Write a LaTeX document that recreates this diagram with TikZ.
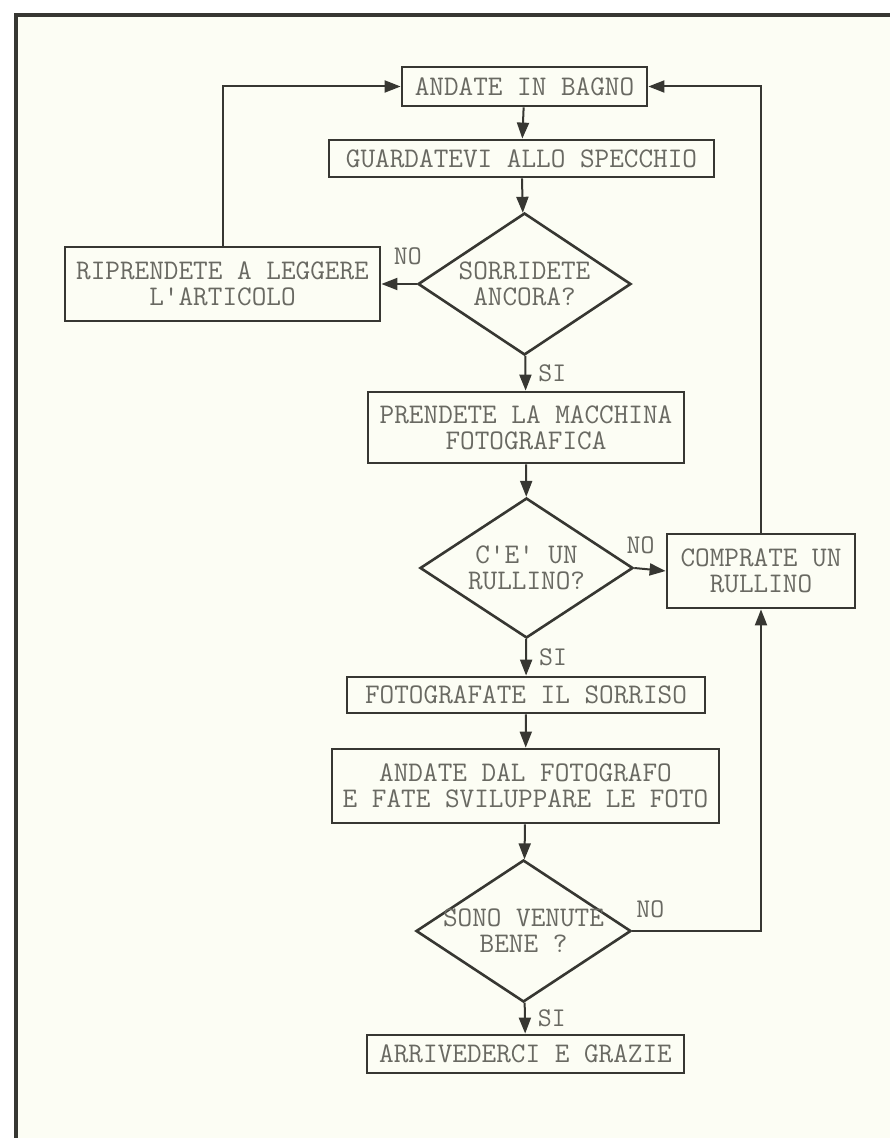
\documentclass[tikz,border=0pt]{standalone}
\usetikzlibrary{shapes.geometric,arrows.meta}
\definecolor{bgcream}{RGB}{252,253,244}
\definecolor{ink}{RGB}{55,55,50}
\definecolor{typeink}{RGB}{105,105,98}
\begin{document}
\begin{tikzpicture}[x=.5pt,y=-.5pt,
    box/.style={draw=ink,line width=1.4pt,rectangle,inner sep=.5pt,align=center,
      text=typeink,font=\ttfamily\fontsize{14.2}{13}\selectfont},
    test/.style={box,diamond,aspect=1.5,inner sep=-5pt,line width=1.3pt},
    link/.style={draw=ink,line width=1pt,-{Triangle[length=8pt,width=6pt]}},
    lbl/.style={text=typeink,font=\ttfamily\fontsize{13.5}{13.5}\selectfont,inner sep=1pt}]
  \useasboundingbox (0,0) rectangle (890,1138);
  \fill[bgcream] (16,15) rectangle (890,1138);
  \draw[ink,line width=1.6pt] (16,1138) -- (16,15) -- (890,15);
  % boxes and tests
  \node[box,minimum width=122.5pt,minimum height=19.5pt] (bagno) at (524.5,86.5) {ANDATE IN BAGNO};
  \node[box,minimum width=192.5pt,minimum height=18.5pt] (specchio) at (521.5,158.5) {GUARDATEVI ALLO SPECCHIO};
  \node[test,minimum width=106.5pt,minimum height=71pt] (sorr) at (524.5,284) {SORRIDETE\\ANCORA?};
  \node[box,minimum width=157.5pt,minimum height=37pt] (riprend) at (222.5,284) {RIPRENDETE A LEGGERE\\L'ARTICOLO};
  \node[box,minimum width=158pt,minimum height=35.5pt] (macch) at (526,427.5) {PRENDETE LA MACCHINA\\FOTOGRAFICA};
  \node[test,minimum width=106.5pt,minimum height=70pt] (rull) at (526.5,568) {C'E' UN\\RULLINO?};
  \node[box,minimum width=94pt,minimum height=37pt] (compra) at (761,571) {COMPRATE UN\\RULLINO};
  \node[box,minimum width=179pt,minimum height=18pt] (foto) at (526,695) {FOTOGRAFATE IL SORRISO};
  \node[box,minimum width=193.5pt,minimum height=37pt] (svil) at (525.5,786) {ANDATE DAL FOTOGRAFO\\E FATE SVILUPPARE LE FOTO};
  \node[test,minimum width=107.5pt,minimum height=71pt] (venute) at (523.5,931) {SONO VENUTE\\BENE ?};
  \node[box,minimum width=158.5pt,minimum height=19pt] (arriv) at (525.5,1054) {ARRIVEDERCI E GRAZIE};
  % connectors
  \draw[link] (bagno) -- (specchio);
  \draw[link] (specchio) -- (sorr);
  \draw[link] (sorr.west) -- (riprend.east) node[lbl,pos=.25,above=8pt] (no1) {NO};
  \draw[link] (riprend.north) |- (bagno.west);
  \draw[link] (sorr) -- (macch) node[lbl,midway,right=5pt] (si1) {SI};
  \draw[link] (macch) -- (rull);
  \draw[link] (rull.east) -- (compra.west) node[lbl,pos=.2,above=6pt] (no2) {NO};
  \draw[link] (compra.north) |- (bagno.east);
  \draw[link] (rull) -- (foto) node[lbl,midway,right=5pt] (si2) {SI};
  \draw[link] (foto) -- (svil);
  \draw[link] (svil) -- (venute);
  \draw[link] (venute.east) -| (compra.south) node[lbl,pos=.07,above=5pt] (no3) {NO};
  \draw[link] (venute) -- (arriv) node[lbl,midway,right=5pt] (si3) {SI};
\end{tikzpicture}
\end{document}
